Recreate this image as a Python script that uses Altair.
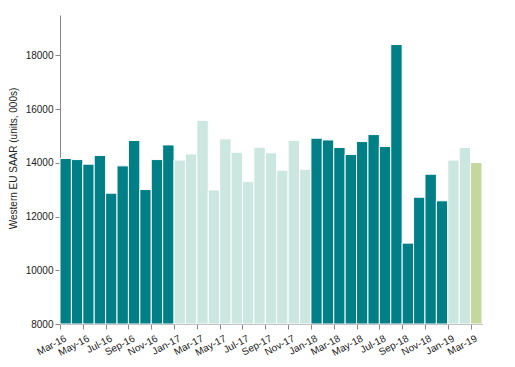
import altair as alt
import pandas as pd

months = [
    "Mar-16", "Apr-16", "May-16", "Jun-16", "Jul-16", "Aug-16", "Sep-16", "Oct-16", "Nov-16", "Dec-16",
    "Jan-17", "Feb-17", "Mar-17", "Apr-17", "May-17", "Jun-17", "Jul-17", "Aug-17", "Sep-17", "Oct-17", "Nov-17", "Dec-17",
    "Jan-18", "Feb-18", "Mar-18", "Apr-18", "May-18", "Jun-18", "Jul-18", "Aug-18", "Sep-18", "Oct-18", "Nov-18", "Dec-18",
    "Jan-19", "Feb-19", "Mar-19",
]
saar = [
    14160, 14120, 13950, 14270, 12870, 13885, 14830, 13005, 14120, 14665,
    14100, 14330, 15580, 12990, 14890, 14390, 13300, 14580, 14370, 13725, 14830, 13760,
    14915, 14850, 14570, 14310, 14790, 15050, 14605, 18400, 11010, 12720, 13575, 12585,
    14100, 14570, 14010,
]
groups = ["2016"] * 10 + ["2017"] * 12 + ["2018"] * 12 + ["2019"] * 2 + ["Latest"]
group_names = ["2016", "2017", "2018", "2019", "Latest"]
group_colors = ["#007F87", "#CCE6E0", "#007F87", "#CCE6E0", "#C4D79C"]
y_ticks = [8000, 10000, 12000, 14000, 16000, 18000]
y_base = 8000

df = pd.DataFrame({"month": months, "saar": saar, "group": groups})
df["i"] = range(len(df))
df["i2"] = df["i"] + 1

tick_idx = list(range(0, len(months), 2))
tick_labels = [months[k] for k in tick_idx]
label_expr = "[" + ",".join("'" + t + "'" for t in tick_labels) + "][round(datum.value/2)]"

chart = alt.Chart(df).mark_bar(stroke="white", strokeWidth=1).encode(
    x=alt.X("i:Q",
            scale=alt.Scale(domain=[0, len(months)], nice=False, zero=False),
            axis=alt.Axis(values=tick_idx, labelExpr=label_expr, title=None,
                          labelAngle=-28, labelAlign="right", labelBaseline="top",
                          labelFontSize=10, labelPadding=4, labelOffset=3, tickSize=5, labelOverlap=False,
                          domainColor="#888888", tickColor="#888888", grid=False,
                          labelColor="#222222", labelFont="Liberation Sans")),
    x2="i2:Q",
    y=alt.Y("saar:Q",
            scale=alt.Scale(domain=[8000, 19500], nice=False, zero=False),
            axis=alt.Axis(values=y_ticks, title="Western EU SAAR (units, 000s)", grid=False,
                          format="d", tickSize=5, domainColor="#888888", tickColor="#888888",
                          labelFontSize=10, labelColor="#222222", labelFont="Liberation Sans",
                          titleFont="Liberation Sans", titleFontSize=10, titleFontWeight="normal",
                          titleColor="#222222", titleX=-42, titleY=143)),
    y2=alt.datum(y_base),
    color=alt.Color("group:N", scale=alt.Scale(domain=group_names, range=group_colors), legend=None),
).properties(
    width=422, height=309,
    autosize=alt.AutoSizeParams(type="none"),
    padding={"left": 52, "top": 7, "right": 20, "bottom": 40},
).configure_view(stroke=None)

chart.save("out.html", embed_options={"renderer": "svg", "actions": False})
